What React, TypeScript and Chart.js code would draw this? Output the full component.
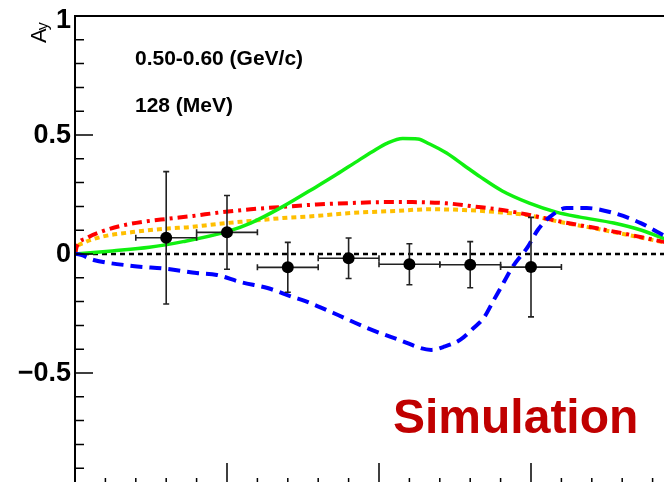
import React, { useEffect, useRef } from "react";
import { Chart, registerables } from "chart.js";

Chart.register(...registerables);

// ---- data -----------------------------------------------------------
const PHI = [54, 90, 126, 162, 198, 234, 270];
const PHI_ERR = [18, 18, 18, 18, 18, 18, 18];
const AY = [0.068, 0.091, -0.056, -0.018, -0.043, -0.045, -0.055];
const AY_ERR = [0.278, 0.155, 0.105, 0.085, 0.086, 0.097, 0.209];

const GREEN_X = [0, 22, 44, 64, 90, 104, 123, 143, 155, 166, 176, 185, 194, 203, 210, 220, 230, 240, 253, 269, 285, 299, 319, 335, 348, 360];
const GREEN_Y = [0, 0.013, 0.028, 0.052, 0.094, 0.13, 0.199, 0.283, 0.335, 0.385, 0.43, 0.466, 0.485, 0.483, 0.462, 0.424, 0.374, 0.324, 0.265, 0.214, 0.176, 0.155, 0.13, 0.101, 0.067, 0.04];

const RED_X = [0, 1, 7, 15, 27, 40, 55, 70, 85, 104, 123, 143, 163, 182, 200, 220, 236, 253, 269, 289, 309, 329, 348, 360];
const RED_Y = [0, 0.03, 0.067, 0.092, 0.118, 0.135, 0.148, 0.16, 0.174, 0.188, 0.198, 0.208, 0.214, 0.218, 0.218, 0.213, 0.2, 0.185, 0.164, 0.134, 0.108, 0.08, 0.052, 0.035];

const ORANGE_X = [0, 1, 5, 15, 34, 55, 68, 84, 104, 123, 143, 163, 190, 210, 230, 250, 269, 289, 309, 329, 348, 360];
const ORANGE_Y = [0, 0.025, 0.046, 0.071, 0.092, 0.107, 0.113, 0.126, 0.139, 0.151, 0.16, 0.172, 0.181, 0.188, 0.185, 0.176, 0.162, 0.132, 0.106, 0.078, 0.05, 0.033];

const BLUE_X = [0, 1, 11, 34, 55, 72, 84, 98, 114, 129, 136, 153, 173, 192, 211, 218, 228, 236, 242, 248, 252, 259, 268, 274, 281, 291, 303, 319, 335, 346, 360];
const BLUE_Y = [0, 0, -0.025, -0.05, -0.063, -0.08, -0.088, -0.118, -0.143, -0.181, -0.197, -0.248, -0.311, -0.361, -0.403, -0.391, -0.361, -0.311, -0.269, -0.193, -0.143, -0.055, 0.029, 0.101, 0.155, 0.193, 0.193, 0.172, 0.13, 0.088, 0.04];

const Y_TICK_VALUES = [-0.5, 0, 0.5, 1];
const Y_TICK_LABELS = ["\u22120.5", "0", "0.5", "1"];
const Y_TITLE = "A";
const Y_TITLE_SUB = "y";
const TEXT_RANGE = "0.50-0.60 (GeV/c)";
const TEXT_ENERGY = "128 (MeV)";
const TEXT_SIM = "Simulation";

const FONT = '"Liberation Sans", Arial, Helvetica, sans-serif';

const pts = (xs: number[], ys: number[]) => xs.map((x, i) => ({ x, y: ys[i] }));

const rootPlugin = {
  id: "rootStyle",
  beforeDatasetsDraw(chart: any) {
    const { ctx, chartArea: a, scales } = chart;
    const y0 = scales.y.getPixelForValue(0);
    ctx.save();
    ctx.beginPath();
    ctx.rect(a.left, a.top, a.right - a.left, a.bottom - a.top);
    ctx.clip();
    ctx.strokeStyle = "#000";
    ctx.lineWidth = 2.5;
    ctx.setLineDash([5, 4]);
    ctx.beginPath();
    ctx.moveTo(a.left, y0);
    ctx.lineTo(a.right, y0);
    ctx.stroke();
    ctx.restore();
  },
  beforeDatasetDraw(chart: any, args: any) {
    if (args.index !== 0) return;
    const { ctx, scales } = chart;
    const xs = scales.x;
    const ys = scales.y;
    ctx.save();
    ctx.strokeStyle = "#222";
    ctx.lineWidth = 1.6;
    ctx.setLineDash([]);
    PHI.forEach((phi, i) => {
      const px = xs.getPixelForValue(phi);
      const py = ys.getPixelForValue(AY[i]);
      const top = ys.getPixelForValue(AY[i] + AY_ERR[i]);
      const bot = ys.getPixelForValue(AY[i] - AY_ERR[i]);
      const l = xs.getPixelForValue(phi - PHI_ERR[i]);
      const r = xs.getPixelForValue(phi + PHI_ERR[i]);
      ctx.beginPath();
      ctx.moveTo(px, top);
      ctx.lineTo(px, bot);
      ctx.moveTo(px - 3, top);
      ctx.lineTo(px + 3, top);
      ctx.moveTo(px - 3, bot);
      ctx.lineTo(px + 3, bot);
      ctx.moveTo(l, py);
      ctx.lineTo(r, py);
      ctx.moveTo(l, py - 3);
      ctx.lineTo(l, py + 3);
      ctx.moveTo(r, py - 3);
      ctx.lineTo(r, py + 3);
      ctx.stroke();
    });
    ctx.restore();
  },
  afterDraw(chart: any) {
    const { ctx, chartArea: a, scales } = chart;
    const xs = scales.x;
    const ys = scales.y;
    ctx.save();
    ctx.setLineDash([]);
    ctx.strokeStyle = "#000";
    // frame
    ctx.lineWidth = 2;
    ctx.beginPath();
    ctx.moveTo(a.left, a.bottom);
    ctx.lineTo(a.left, a.top);
    ctx.lineTo(a.right, a.top);
    ctx.lineTo(a.right, a.bottom);
    ctx.closePath();
    ctx.stroke();
    // y ticks
    ctx.lineWidth = 1.5;
    ctx.beginPath();
    for (let k = -10; k <= 10; k++) {
      const py = ys.getPixelForValue(k / 10);
      const len = k % 5 === 0 ? 18 : 9;
      ctx.moveTo(a.left, py);
      ctx.lineTo(a.left + len, py);
    }
    // x ticks
    for (let k = 0; k <= 20; k++) {
      const px = xs.getPixelForValue(k * 18);
      const len = k % 5 === 0 ? 29 : 14;
      ctx.moveTo(px, a.bottom);
      ctx.lineTo(px, a.bottom - len);
    }
    ctx.stroke();
    // y labels
    ctx.fillStyle = "#000";
    ctx.font = `bold 27px ${FONT}`;
    ctx.textAlign = "right";
    ctx.textBaseline = "middle";
    Y_TICK_VALUES.forEach((v, i) => {
      const py = Math.max(ys.getPixelForValue(v) + 1, 21);
      ctx.fillText(Y_TICK_LABELS[i], a.left - 4, py);
    });
    // y title
    ctx.save();
    ctx.translate(46, 43);
    ctx.rotate(-Math.PI / 2);
    ctx.textAlign = "left";
    ctx.textBaseline = "alphabetic";
    ctx.font = `22px ${FONT}`;
    ctx.fillText(Y_TITLE, 0, 0);
    const w = ctx.measureText(Y_TITLE).width;
    ctx.font = `16px ${FONT}`;
    ctx.fillText(Y_TITLE_SUB, w - 2, 2);
    ctx.restore();
    // annotations
    ctx.textAlign = "left";
    ctx.textBaseline = "alphabetic";
    ctx.font = `bold 21px ${FONT}`;
    ctx.fillText(TEXT_RANGE, 135, 65);
    ctx.fillText(TEXT_ENERGY, 135, 112);
    ctx.fillStyle = "#c00000";
    ctx.font = `bold 48px ${FONT}`;
    ctx.fillText(TEXT_SIM, 393, 433);
    ctx.restore();
  },
};

export default function App() {
  const ref = useRef<HTMLCanvasElement>(null);
  useEffect(() => {
    const canvas = ref.current!;
    const lineBase = {
      type: "line" as const,
      pointRadius: 0,
      pointHoverRadius: 0,
      fill: false,
      cubicInterpolationMode: "monotone" as const,
    };
    const chart = new Chart(canvas, {
      type: "scatter",
      data: {
        datasets: [
          {
            type: "scatter",
            data: pts(PHI, AY),
            pointRadius: 6,
            pointBackgroundColor: "#000",
            pointBorderWidth: 0,
            showLine: false,
          } as any,
          {
            ...lineBase,
            data: pts(BLUE_X, BLUE_Y),
            borderColor: "#0000ff",
            borderWidth: 4,
            borderDash: [12, 7],
          },
          {
            ...lineBase,
            data: pts(GREEN_X, GREEN_Y),
            borderColor: "#10f010",
            borderWidth: 3.5,
          },
          {
            ...lineBase,
            data: pts(RED_X, RED_Y),
            borderColor: "#ff0000",
            borderWidth: 4,
            borderDash: [10, 5, 3, 5],
          },
          {
            ...lineBase,
            data: pts(ORANGE_X, ORANGE_Y),
            borderColor: "#ffbf00",
            borderWidth: 4,
            borderDash: [5, 4],
          },
        ],
      },
      options: {
        responsive: false,
        animation: false,
        devicePixelRatio: 1,
        layout: { padding: { left: 75, top: 16, right: 17, bottom: 8 } },
        scales: {
          x: { type: "linear", min: 0, max: 360, display: false },
          y: { type: "linear", min: -1, max: 1, display: false },
        },
        plugins: { legend: { display: false }, tooltip: { enabled: false } },
        events: [],
      },
      plugins: [rootPlugin],
    } as any);
    return () => chart.destroy();
  }, []);
  return (
    <div
      style={{
        position: "fixed",
        left: 0,
        top: 0,
        width: 664,
        height: 482,
        overflow: "hidden",
        background: "#fff",
      }}
    >
      <canvas ref={ref} width={700} height={500} style={{ display: "block", width: 700, height: 500 }} />
    </div>
  );
}
